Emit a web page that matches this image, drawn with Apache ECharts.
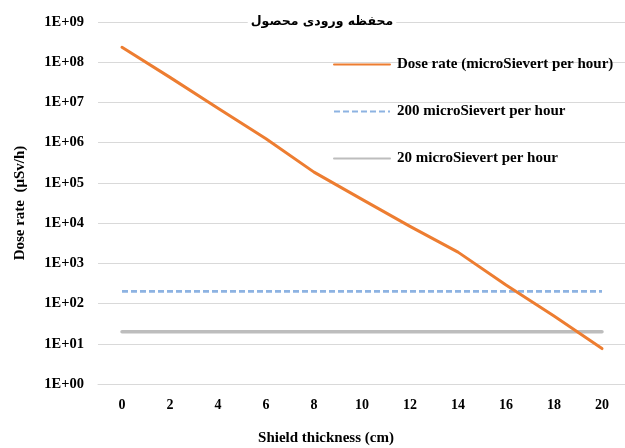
<!DOCTYPE html>
<html>
<head>
<meta charset="utf-8">
<script src="https://cdn.jsdelivr.net/npm/echarts@6/dist/echarts.min.js"></script>
<style>
  html, body { margin: 0; padding: 0; background: #ffffff; }
  #chart { width: 625px; height: 448px; }
</style>
</head>
<body>
<div id="chart"></div>
<script>
// Shield thickness steps (cm)
const thickness = ['0', '2', '4', '6', '8', '10', '12', '14', '16', '18', '20'];

// Dose rate behind the shield (µSv/h)
const doseRate = [2.35e8, 4.2e7, 7.2e6, 1.25e6, 1.85e5, 3.9e4, 8.3e3, 1.9e3, 2.9e2, 49, 7.6];

// Reference limits (µSv/h)
const limit200 = [200, 200, 200, 200, 200, 200, 200, 200, 200, 200, 200];
const limit20 = [20, 20, 20, 20, 20, 20, 20, 20, 20, 20, 20];

// Tick labels of the logarithmic axis, one per decade
const yTickLabels = ['1E+00', '1E+01', '1E+02', '1E+03', '1E+04', '1E+05', '1E+06', '1E+07', '1E+08', '1E+09'];

const seriesNames = ['Dose rate (microSievert per hour)', '200 microSievert per hour', '20 microSievert per hour'];
const chartTitle = 'محفظه ورودی محصول';

const serif = '"Liberation Serif", "Times New Roman", serif';

const chart = echarts.init(document.getElementById('chart'), null, { renderer: 'canvas' });

chart.setOption({
  backgroundColor: '#ffffff',
  animation: false,
  title: {
    text: chartTitle,
    left: 319,
    textAlign: 'center',
    top: 13,
    padding: [2, 3],
    backgroundColor: '#ffffff',
    textStyle: { fontFamily: '"DejaVu Sans", sans-serif', fontWeight: 'bold', fontSize: 12.5, color: '#000000' }
  },
  legend: {
    orient: 'vertical',
    left: 333,
    top: 57,
    padding: 0,
    itemWidth: 56,
    itemHeight: 14,
    itemGap: 32,
    itemStyle: { opacity: 0 },
    textStyle: { fontFamily: serif, fontWeight: 'bold', fontSize: 15, color: '#000000', padding: [0, 0, 0, 2] },
    data: seriesNames
  },
  grid: { left: 98, right: -1, top: 22, bottom: 64, containLabel: false, outerBoundsMode: 'none' },
  xAxis: {
    type: 'category',
    data: thickness,
    boundaryGap: true,
    name: 'Shield thickness (cm)',
    nameLocation: 'middle',
    nameGap: 47,
    nameTextStyle: { fontFamily: serif, fontWeight: 'bold', fontSize: 15, color: '#000000', padding: [0, 72, 0, 0] },
    axisLine: { show: true, lineStyle: { color: '#d9d9d9', width: 1 } },
    axisTick: { show: false },
    axisLabel: { margin: 14, fontFamily: serif, fontWeight: 'bold', fontSize: 14, color: '#000000' },
    splitLine: { show: false }
  },
  yAxis: {
    type: 'log',
    logBase: 10,
    min: 1,
    max: 1e9,
    name: 'Dose rate  (μSv/h)',
    nameLocation: 'middle',
    nameGap: 70,
    nameRotate: 90,
    nameTextStyle: { fontFamily: serif, fontWeight: 'bold', fontSize: 15, color: '#000000' },
    axisLine: { show: false },
    axisTick: { show: false },
    axisLabel: {
      margin: 14,
      fontFamily: serif,
      fontWeight: 'bold',
      fontSize: 14.5,
      color: '#000000',
      formatter: function (v) {
        const e = Math.round(Math.log10(v));
        return yTickLabels[e] !== undefined ? yTickLabels[e] : '';
      }
    },
    splitLine: { show: true, lineStyle: { color: '#d9d9d9', width: 1 } }
  },
  series: [
    {
      name: seriesNames[0],
      type: 'line',
      data: doseRate,
      symbol: 'none',
      z: 5,
      lineStyle: { color: '#ed7d31', width: 3, cap: 'round', join: 'round' },
      itemStyle: { color: '#ed7d31' }
    },
    {
      name: seriesNames[1],
      type: 'line',
      data: limit200,
      symbol: 'none',
      z: 3,
      lineStyle: { color: '#8db3e2', width: 2.8, type: [6, 3] },
      itemStyle: { color: '#8db3e2' }
    },
    {
      name: seriesNames[2],
      type: 'line',
      data: limit20,
      symbol: 'none',
      z: 3,
      lineStyle: { color: '#bdbdbd', width: 3.5, cap: 'round' },
      itemStyle: { color: '#bdbdbd' }
    }
  ]
});
</script>
</body>
</html>
